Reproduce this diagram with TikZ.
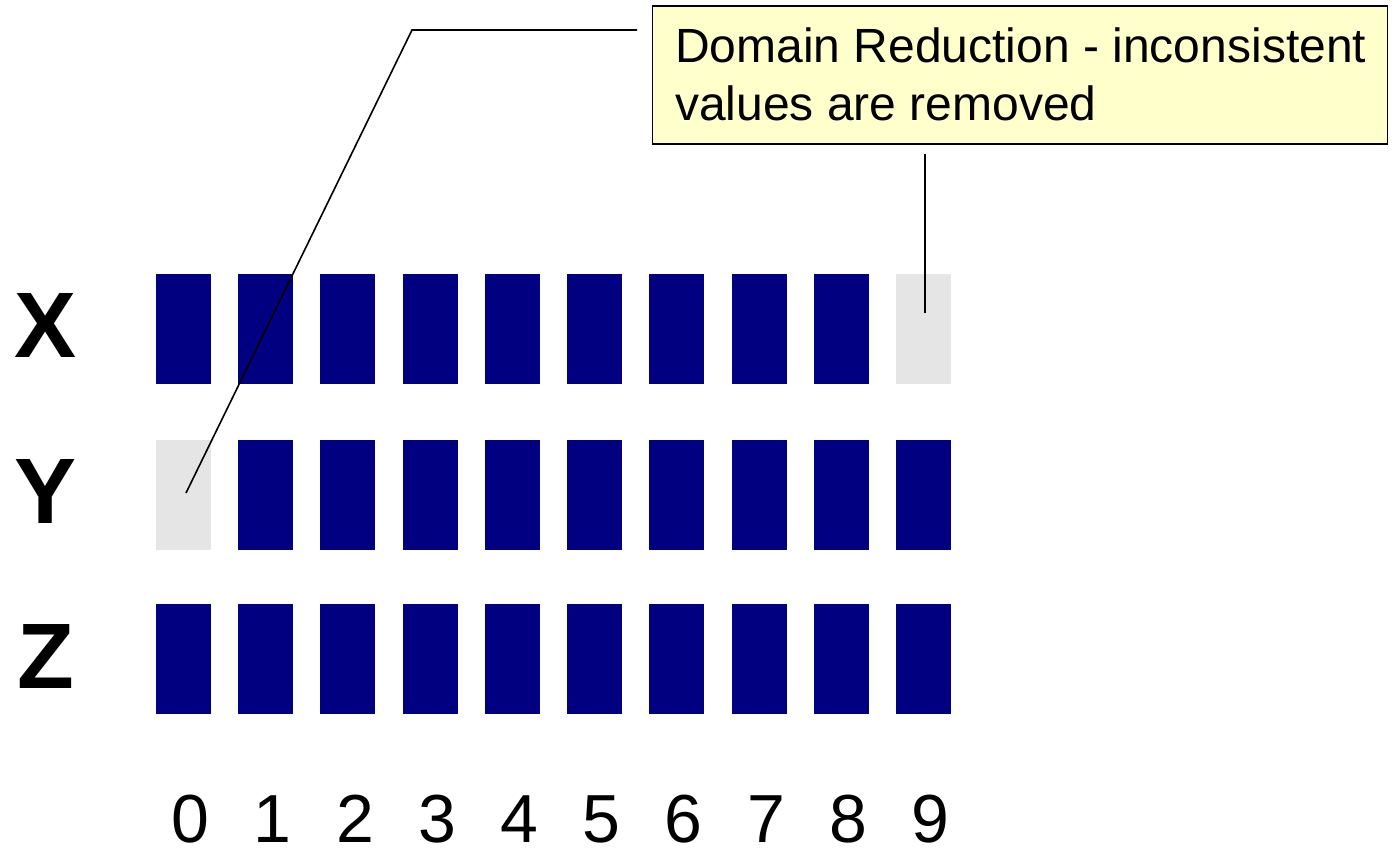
\documentclass[tikz,border=0pt]{standalone}
\usepackage{fontspec}
\setmainfont{Liberation Sans}
\begin{document}
\begin{tikzpicture}[x=1pt,y=-1pt,
  bar/.style={rectangle,fill=navyblue,minimum width=55pt,minimum height=110pt,inner sep=0pt},
  removed/.style={bar,fill=lightgrey},
  varlabel/.style={anchor=base,inner sep=0pt,font=\fontsize{93}{93}\selectfont\bfseries},
  digit/.style={anchor=base,inner sep=0pt,font=\fontsize{68}{68}\selectfont},
  notetext/.style={anchor=base west,inner sep=0pt,font=\fontsize{48}{58}\selectfont},
  leader/.style={line width=1.6pt,black}]
\definecolor{navyblue}{HTML}{000080}
\definecolor{lightgrey}{HTML}{E5E5E5}
\definecolor{noteyellow}{HTML}{FFFFCC}
\useasboundingbox (0,0) rectangle (1393,850);

% domain bars: rows X, Y, Z; columns 0..9
\foreach \i in {0,...,9} {
  \pgfmathsetmacro{\cx}{183.5+82.22*\i}
  \ifnum\i=9
    \node[removed] (x\i) at (\cx,329) {};
  \else
    \node[bar] (x\i) at (\cx,329) {};
  \fi
  \ifnum\i=0
    \node[removed] (y\i) at (\cx,495) {};
  \else
    \node[bar] (y\i) at (\cx,495) {};
  \fi
  \node[bar] (z\i) at (\cx,659) {};
  \node[digit] (d\i) at (\cx+7,842) {\i};
}

% variable names
\node[varlabel] (lx) at (46,358) {X};
\node[varlabel] (ly) at (46,523) {Y};
\node[varlabel] (lz) at (46,688) {Z};

% callout box
\node[draw=black,line width=1.6pt,fill=noteyellow,rectangle,inner sep=0pt,
      minimum width=735pt,minimum height=138pt] (note) at (1020,75) {};
\node[notetext] (note1) at (675,63) {Domain Reduction - inconsistent};
\node[notetext] (note2) at (675,121) {values are removed};

% leader lines to the removed values
\coordinate (la) at (637,30);
\coordinate (lb) at (412,30);
\coordinate (lc) at (186,493);
\draw[leader] (la) -- (lb) -- (lc);
\coordinate (ra) at (925,154);
\coordinate (rb) at (925,313);
\draw[leader] (ra) -- (rb);
\end{tikzpicture}
\end{document}
